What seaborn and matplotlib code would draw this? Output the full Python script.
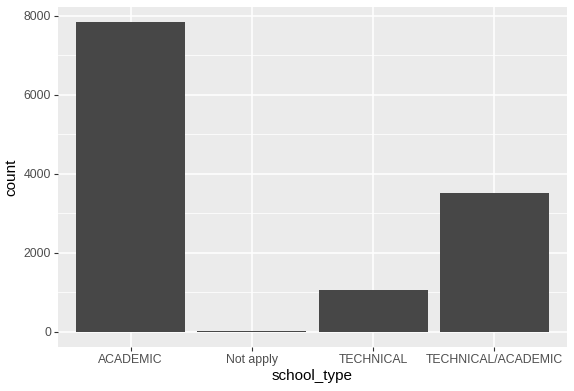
import matplotlib
matplotlib.use("Agg")
import matplotlib.pyplot as plt
import seaborn as sns
import pandas as pd

# data
school_type = ["ACADEMIC", "Not apply", "TECHNICAL", "TECHNICAL/ACADEMIC"]
count = [7825, 12, 1060, 3510]
yticks = [0, 2000, 4000, 6000, 8000]

df = pd.DataFrame({"school_type": school_type, "count": count})

plt.rcParams["font.family"] = ["Liberation Sans", "DejaVu Sans"]

W, H = 574, 391
fig = plt.figure(figsize=(W / 100, H / 100), dpi=100)
ax = fig.add_axes([58 / W, 1 - 347 / H, (567 - 58) / W, (347 - 7) / H])

sns.barplot(data=df, x="school_type", y="count", color="#474747",
            saturation=1, width=0.9, ax=ax, zorder=3)

ax.set_facecolor("#EBEBEB")
for s in ax.spines.values():
    s.set_visible(False)

ymax = max(count)
pad = ymax * 0.05
ax.set_ylim(-pad, ymax + pad)
ax.set_xlim(-0.6, len(school_type) - 0.4)
ax.set_yticks(yticks)
ax.set_yticks([1000, 3000, 5000, 7000], minor=True)
ax.grid(True, which="major", color="white", linewidth=1.1, zorder=0)
ax.grid(True, which="minor", axis="y", color="white", linewidth=0.55, zorder=0)
ax.set_axisbelow(True)
ax.tick_params(axis="both", which="major", length=3, color="#333333",
               labelcolor="#4D4D4D", labelsize=8.8, width=0.8, pad=2)
ax.tick_params(axis="y", which="minor", length=0)
ax.set_xlabel("school_type", fontsize=11, labelpad=2)
ax.set_ylabel("count", fontsize=11, labelpad=4)

fig.savefig("out.png", dpi=100)
